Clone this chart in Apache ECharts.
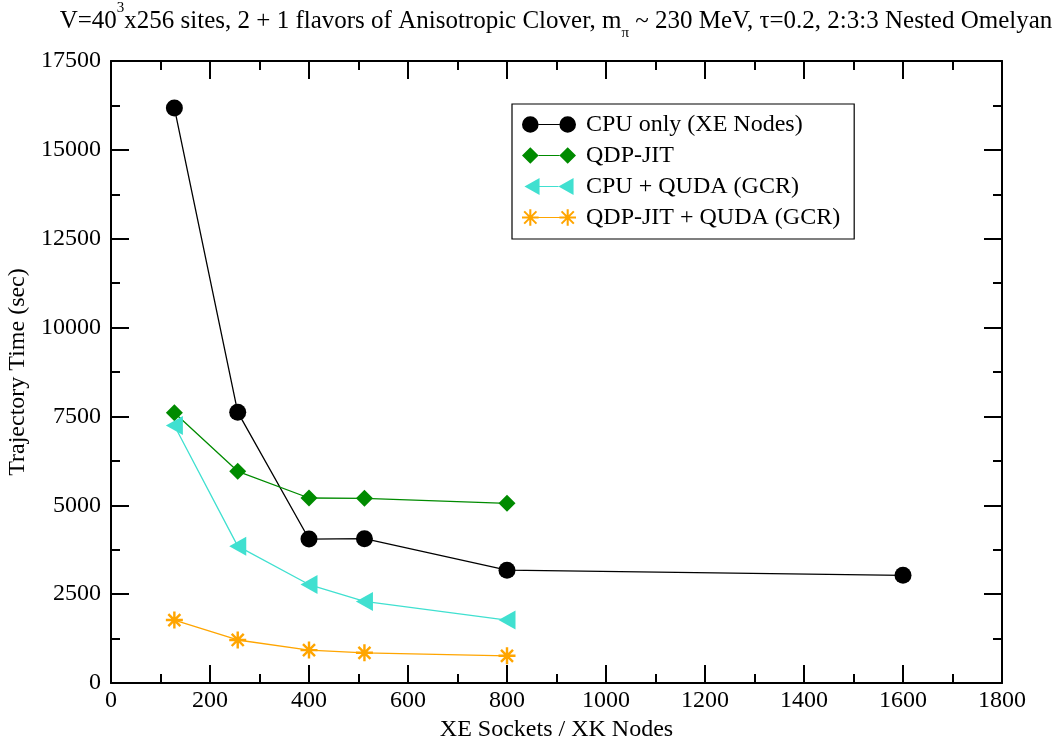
<!DOCTYPE html>
<html>
<head>
<meta charset="utf-8">
<script src="https://cdn.jsdelivr.net/npm/echarts@6/dist/echarts.min.js"></script>
<style>
  html, body { margin: 0; padding: 0; background: #fff; }
  #chart { width: 1060px; height: 741px; }
</style>
</head>
<body>
<div id="chart"></div>
<script>
// sockets / nodes on the x axis
var sockets = [128, 256, 400, 512, 800, 1600]
// trajectory times (sec)
var cpuOnly = [16180, 7620, 4050, 4060, 3175, 3030]
var qdpJit = [7605, 5955, 5205, 5195, 5055]
var cpuQuda = [7245, 3850, 2770, 2295, 1770]
var qdpJitQuda = [1770, 1210, 925, 850, 765]

var serif = '"Liberation Serif", "Times New Roman", serif'

// marker shapes
var leftTriangle = 'path://M0,9.5 L17,0 L17,19 Z'
var asterisk = 'path://M0,6 L14,6 L14,8 L0,8 Z M6,0 L8,0 L8,14 L6,14 Z ' +
  'M2.76,1.34 L12.66,11.24 L11.24,12.66 L1.34,2.76 Z ' +
  'M12.66,2.76 L2.76,12.66 L1.34,11.24 L11.24,1.34 Z'

// legend icons: marker - line - marker
var iconCircle = 'path://M1,9 A8,8 0 1,1 17,9 A8,8 0 1,1 1,9 Z M37,9 A8,8 0 1,1 53,9 A8,8 0 1,1 37,9 Z M17,8.4 L37,8.4 L37,9.6 L17,9.6 Z'
var iconDiamond = 'path://M1,9 L9,1 L17,9 L9,17 Z M37,9 L45,1 L53,9 L45,17 Z M17,8.4 L37,8.4 L37,9.6 L17,9.6 Z'
var iconTriangle = 'path://M1,9 L17,0 L17,18 Z M37,9 L53,0 L53,18 Z M17,8.4 L37,8.4 L37,9.6 L17,9.6 Z'
var iconStar = 'path://M1,8 L17,8 L17,10 L1,10 Z M8,1 L10,1 L10,17 L8,17 Z ' +
  'M3.8,2.4 L15.6,14.2 L14.2,15.6 L2.4,3.8 Z M15.6,3.8 L3.8,15.6 L2.4,14.2 L14.2,2.4 Z ' +
  'M37,8 L53,8 L53,10 L37,10 Z M44,1 L46,1 L46,17 L44,17 Z ' +
  'M39.8,2.4 L51.6,14.2 L50.2,15.6 L38.4,3.8 Z M51.6,3.8 L39.8,15.6 L38.4,14.2 L50.2,2.4 Z ' +
  'M17,8.4 L37,8.4 L37,9.6 L17,9.6 Z'

function pairs (ys) {
  return ys.map(function (y, i) { return [sockets[i], y] })
}

function frameAxis (extra) {
  var ax = {
    type: 'value',
    axisLine: { show: true, onZero: false, lineStyle: { color: '#000', width: 2 } },
    axisTick: { show: true, inside: true, length: 18, lineStyle: { color: '#000', width: 2 } },
    minorTick: { show: true, splitNumber: 2, length: 9, lineStyle: { color: '#000', width: 2 } },
    splitLine: { show: false },
    axisLabel: { show: false }
  }
  return Object.assign(ax, extra)
}

var plainNum = function (v) { return String(v) }

var chart = echarts.init(document.getElementById('chart'))
var option = {
  animation: false,
  backgroundColor: '#fff',
  title: {
    text: 'V=40{sup|3}x256 sites, 2 + 1 flavors of Anisotropic Clover, m{sub|π} ~ 230 MeV, τ=0.2, 2:3:3 Nested Omelyan',
    left: 556,
    top: 1,
    textAlign: 'center',
    padding: 0,
    textStyle: {
      fontFamily: serif,
      fontSize: 25,
      fontWeight: 'normal',
      color: '#000',
      lineHeight: 40,
      rich: {
        sup: { fontFamily: serif, fontSize: 15, verticalAlign: 'top', color: '#000' },
        sub: { fontFamily: serif, fontSize: 15, verticalAlign: 'bottom', color: '#000' }
      }
    }
  },
  grid: { left: 111, right: 58, top: 61, bottom: 58, outerBoundsMode: 'none', containLabel: false },
  legend: {
    orient: 'vertical',
    left: 512,
    top: 104,
    padding: [8, 14, 9, 10],
    itemWidth: 54,
    itemHeight: 17,
    itemGap: 6,
    borderColor: '#000',
    borderWidth: 1.2,
    backgroundColor: '#fff',
    textStyle: { fontFamily: serif, fontSize: 24, color: '#000', lineHeight: 25, padding: [0, 0, 0, 5] },
    data: [
      { name: 'CPU only (XE Nodes)', icon: iconCircle },
      { name: 'QDP-JIT', icon: iconDiamond },
      { name: 'CPU + QUDA (GCR)', icon: iconTriangle },
      { name: 'QDP-JIT + QUDA (GCR)', icon: iconStar }
    ]
  },
  xAxis: [
    frameAxis({
      min: 0,
      max: 1800,
      interval: 200,
      position: 'bottom',
      name: 'XE Sockets / XK Nodes',
      nameLocation: 'middle',
      nameGap: 30,
      nameTextStyle: { fontFamily: serif, fontSize: 24, color: '#000' },
      axisLabel: { show: true, fontFamily: serif, fontSize: 24, color: '#000', margin: 6, formatter: plainNum }
    }),
    frameAxis({ min: 0, max: 1800, interval: 200, position: 'top' })
  ],
  yAxis: [
    frameAxis({
      min: 0,
      max: 17500,
      interval: 2500,
      position: 'left',
      name: 'Trajectory Time (sec)',
      nameLocation: 'middle',
      nameGap: 78,
      nameTextStyle: { fontFamily: serif, fontSize: 24, color: '#000' },
      axisLabel: { show: true, fontFamily: serif, fontSize: 24, color: '#000', margin: 10, formatter: plainNum }
    }),
    frameAxis({ min: 0, max: 17500, interval: 2500, position: 'right' })
  ],
  series: [
    {
      name: 'CPU only (XE Nodes)',
      type: 'line',
      data: pairs(cpuOnly),
      symbol: 'circle',
      symbolSize: 17,
      lineStyle: { color: '#000', width: 1.3 },
      itemStyle: { color: '#000', borderWidth: 0 }
    },
    {
      name: 'QDP-JIT',
      type: 'line',
      data: pairs(qdpJit),
      symbol: 'diamond',
      symbolSize: [17, 17],
      lineStyle: { color: '#008b00', width: 1.3 },
      itemStyle: { color: '#008b00', borderWidth: 0 }
    },
    {
      name: 'CPU + QUDA (GCR)',
      type: 'line',
      data: pairs(cpuQuda),
      symbol: leftTriangle,
      symbolSize: [17, 19],
      lineStyle: { color: '#40e0d0', width: 1.3 },
      itemStyle: { color: '#40e0d0', borderWidth: 0 }
    },
    {
      name: 'QDP-JIT + QUDA (GCR)',
      type: 'line',
      data: pairs(qdpJitQuda),
      symbol: asterisk,
      symbolSize: 17,
      lineStyle: { color: '#ffa500', width: 1.3 },
      itemStyle: { color: '#ffa500', borderWidth: 0 }
    }
  ]
}
chart.setOption(option)
</script>
</body>
</html>
